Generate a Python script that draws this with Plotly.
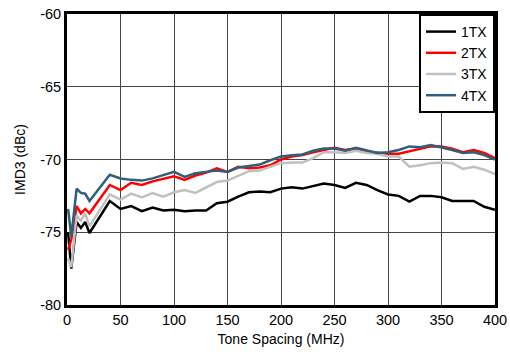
import plotly.graph_objects as go

freq = [1, 4, 9, 13, 17, 21, 40, 50, 60, 70, 80, 90, 100, 110, 120, 130, 140, 150, 160, 170, 180,
        190, 200, 210, 220, 230, 240, 250, 260, 270, 280, 290, 300, 310, 320, 330, 340, 350, 360,
        370, 380, 390, 400]

tx1 = [-75.0, -77.5, -74.3, -74.7, -74.3, -75.05, -72.85, -73.4, -73.2, -73.55, -73.3, -73.5, -73.45,
       -73.55, -73.5, -73.5, -73.0, -72.9, -72.55, -72.25, -72.2, -72.25, -72.0, -71.9, -72.0, -71.8,
       -71.65, -71.75, -71.95, -71.6, -71.75, -72.1, -72.4, -72.5, -72.9, -72.5, -72.5, -72.6, -72.85,
       -72.85, -72.85, -73.25, -73.45]

tx2 = [-76.2, -75.5, -73.2, -73.7, -73.4, -73.7, -71.75, -72.1, -71.6, -71.75, -71.5, -71.3, -71.15,
       -71.4, -71.1, -70.9, -70.6, -70.85, -70.5, -70.6, -70.55, -70.4, -70.0, -69.8, -69.7, -69.5,
       -69.35, -69.2, -69.35, -69.25, -69.45, -69.55, -69.6, -69.6, -69.45, -69.25, -69.1, -69.1, -69.25,
       -69.5, -69.35, -69.55, -69.9]

tx3 = [-76.8, -77.4, -73.85, -74.2, -73.7, -74.6, -72.4, -72.75, -72.35, -72.6, -72.3, -72.55, -72.25,
       -72.1, -72.3, -71.9, -71.55, -71.45, -71.1, -70.8, -70.75, -70.5, -70.25, -70.2, -70.2, -69.9,
       -69.5, -69.5, -69.55, -69.4, -69.55, -69.6, -69.8, -69.8, -70.5, -70.4, -70.25, -70.2, -70.25,
       -70.65, -70.5, -70.7, -71.0]

tx4 = [-73.4, -75.3, -72.0, -72.3, -72.35, -72.85, -71.05, -71.3, -71.4, -71.45, -71.3, -71.1, -70.85,
       -71.2, -70.95, -70.85, -70.75, -70.85, -70.55, -70.45, -70.35, -70.05, -69.8, -69.7, -69.65, -69.4,
       -69.25, -69.25, -69.4, -69.2, -69.4, -69.55, -69.5, -69.35, -69.1, -69.15, -69.0, -69.15, -69.35,
       -69.55, -69.5, -69.7, -70.0]

x_ticks = [0, 50, 100, 150, 200, 250, 300, 350, 400]
y_ticks = [-80, -75, -70, -65, -60]
y_tick_text = ["-80", "-75", "-70", "-65", "-60"]

names = ["1TX", "2TX", "3TX", "4TX"]
colors = ["#000000", "#ff0000", "#c0c0c0", "#2f5f7a"]
series = [tx1, tx2, tx3, tx4]

fig = go.Figure()
for n, c, s in zip(names, colors, series):
    fig.add_trace(go.Scatter(x=freq, y=s, mode="lines", name=n,
                             line=dict(color=c, width=2.5)))

font = "Liberation Sans, Arial, sans-serif"
fig.update_layout(
    width=510, height=352,
    margin=dict(l=67, r=15, t=14, b=47, autoexpand=False),
    paper_bgcolor="white", plot_bgcolor="white",
    font=dict(family=font, size=14, color="#000000"),
    showlegend=True,
    legend=dict(x=1, y=1, xanchor="right", yanchor="top",
                bgcolor="white", bordercolor="#000000", borderwidth=2,
                font=dict(size=14, family=font), tracegroupgap=0,
                itemwidth=30),
    xaxis=dict(range=[0, 400], tickvals=x_ticks, automargin=False,
               showgrid=True, gridcolor="#444444", gridwidth=1,
               showline=True, linecolor="#000000", linewidth=3, mirror=True,
               ticks="", zeroline=False, tickfont=dict(size=14.5),
               title=dict(text="Tone Spacing (MHz)", font=dict(size=14), standoff=7)),
    yaxis=dict(range=[-80, -60], tickvals=y_ticks, ticktext=y_tick_text, automargin=False,
               showgrid=True, gridcolor="#444444", gridwidth=1,
               showline=True, linecolor="#000000", linewidth=3, mirror=True,
               ticks="", zeroline=False, tickfont=dict(size=14.5),
               title=dict(text="IMD3 (dBc)", font=dict(size=14), standoff=12)),
)

fig.write_html("out.html", config={"displayModeBar": False},
               post_script="document.body.style.margin='0';")
